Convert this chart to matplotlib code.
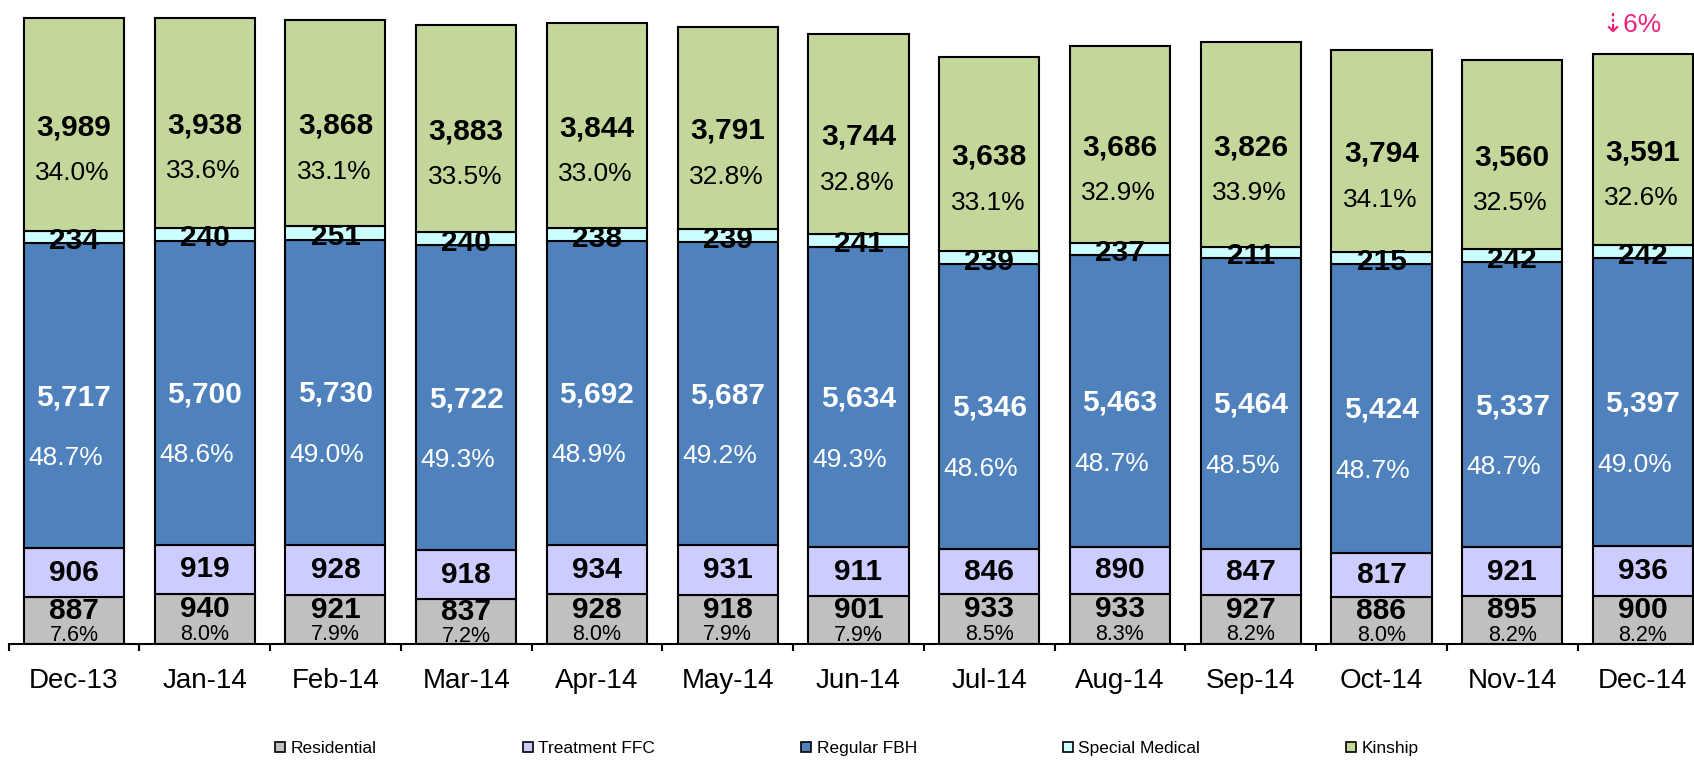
import numpy as np
import matplotlib
matplotlib.use("Agg")
import matplotlib.pyplot as plt
from matplotlib.lines import Line2D

plt.rcParams['font.family'] = ['Liberation Sans', 'DejaVu Sans']

# ── data ──────────────────────────────────────────────────────────────────────
months = ["Dec-13", "Jan-14", "Feb-14", "Mar-14", "Apr-14", "May-14", "Jun-14",
          "Jul-14", "Aug-14", "Sep-14", "Oct-14", "Nov-14", "Dec-14"]
residential = [887, 940, 921, 837, 928, 918, 901, 933, 933, 927, 886, 895, 900]
treatment_ffc = [906, 919, 928, 918, 934, 931, 911, 846, 890, 847, 817, 921, 936]
regular_fbh = [5717, 5700, 5730, 5722, 5692, 5687, 5634, 5346, 5463, 5464, 5424, 5337, 5397]
special_medical = [234, 240, 251, 240, 238, 239, 241, 239, 237, 211, 215, 242, 242]
kinship = [3989, 3938, 3868, 3883, 3844, 3791, 3744, 3638, 3686, 3826, 3794, 3560, 3591]

residential_pct = [7.6, 8.0, 7.9, 7.2, 8.0, 7.9, 7.9, 8.5, 8.3, 8.2, 8.0, 8.2, 8.2]
fbh_pct = [48.7, 48.6, 49.0, 49.3, 48.9, 49.2, 49.3, 48.6, 48.7, 48.5, 48.7, 48.7, 49.0]
kinship_pct = [34.0, 33.6, 33.1, 33.5, 33.0, 32.8, 32.8, 33.1, 32.9, 33.9, 34.1, 32.5, 32.6]

series_names = ["Residential", "Treatment FFC", "Regular FBH", "Special Medical", "Kinship"]
colors = ["#C0C0C0", "#CCCCFF", "#4F81BD", "#CCFFFF", "#C4D79B"]
change_note = "⇣6%"

# ── figure ────────────────────────────────────────────────────────────────────
fig = plt.figure(figsize=(16.94, 7.62), dpi=100, facecolor="white")
ax = fig.add_axes([8.6 / 1694, 118 / 762, 1 - 8.6 / 1694, 644 / 762])

x = np.arange(len(months))
series = [residential, treatment_ffc, regular_fbh, special_medical, kinship]
bottom = np.zeros(len(months))
bars = []
for vals, c in zip(series, colors):
    ax.bar(x, vals, width=0.765, bottom=bottom, color=c,
           edgecolor="black", linewidth=1.5, zorder=2)
    bars.append((np.array(vals, dtype=float), bottom.copy()))
    bottom += np.array(vals)

def lab(xi, y, s, dy=0, dx=0, size=21.5, bold=True, color="black"):
    ax.annotate(s, (xi, y), xytext=(dx, dy), textcoords="offset points",
                ha="center", va="center", fontsize=size,
                fontweight="bold" if bold else "normal", color=color, zorder=3)

for i in range(len(months)):
    # residential
    v, b0 = bars[0]
    c = b0[i] + v[i] / 2
    lab(x[i], c, f"{int(v[i]):,}", dy=7)
    lab(x[i], c, f"{residential_pct[i]:.1f}%", dy=-11, size=15.5, bold=False)
    # treatment FFC
    v, b0 = bars[1]
    lab(x[i], b0[i] + v[i] / 2, f"{int(v[i]):,}")
    # regular FBH
    v, b0 = bars[2]
    c = b0[i] + v[i] / 2
    lab(x[i], c, f"{int(v[i]):,}", color="white", dy=-1)
    lab(x[i], c, f"{fbh_pct[i]:.1f}%", dy=-45, dx=-6, size=19, bold=False, color="white")
    # special medical
    v, b0 = bars[3]
    lab(x[i], b0[i] + v[i] / 2, f"{int(v[i]):,}", dy=-3)
    # kinship
    v, b0 = bars[4]
    c = b0[i] + v[i] / 2
    lab(x[i], c, f"{int(v[i]):,}", dy=-2)
    lab(x[i], c, f"{kinship_pct[i]:.1f}%", dy=-35, dx=-1, size=19, bold=False)

ax.annotate(change_note, (x[-1], bottom[-1]), xytext=(-8, 21),
            textcoords="offset points", ha="center", va="center",
            fontsize=19, color="#F0207A")

# axes styling
for s in ["top", "right", "left"]:
    ax.spines[s].set_visible(False)
ax.spines["bottom"].set_linewidth(1.5)
ax.set_yticks([])
ax.set_xticks(x)
ax.set_xticklabels(months, fontsize=20)
ax.tick_params(axis="x", which="major", length=0, pad=17)
ax.set_xticks(np.arange(-0.5, len(months), 1.0), minor=True)
ax.tick_params(axis="x", which="minor", length=5, width=1.5, direction="out")
# limits last, so the tick setters do not widen them
ax.set_xlim(-0.5, (1694 - 74) / 130.75)
ax.set_ylim(0, 644 / 0.05335)

handles = [Line2D([], [], marker="s", linestyle="none", markersize=7,
                  markerfacecolor=c, markeredgecolor="black", markeredgewidth=1.2)
           for c in colors]
fig.legend(handles, series_names, loc="center", bbox_to_anchor=(0.5, 14 / 762),
           ncol=5, frameon=False, fontsize=12.5, handlelength=0.6,
           handletextpad=0.3, columnspacing=8.4)

fig.savefig("out.png", dpi=100, facecolor="white")
